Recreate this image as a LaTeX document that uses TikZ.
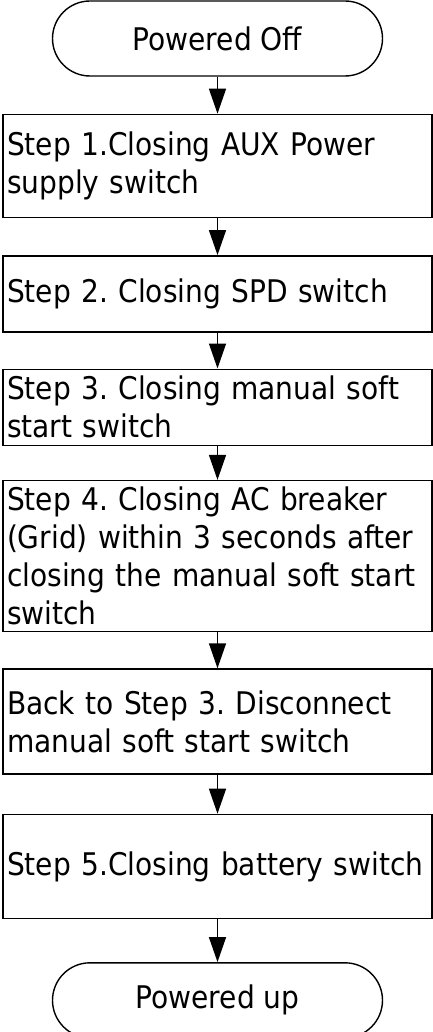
\documentclass[tikz,border=0pt]{standalone}
\usepackage{fontspec}
\setmainfont{DejaVu Sans Condensed}
\usetikzlibrary{arrows.meta, positioning}
\frenchspacing
\tikzset{
  terminal/.style={rectangle, draw, rounded corners=37.5pt, minimum width=330pt,
                   minimum height=75pt, line width=1.4pt},
  stepbox/.style={rectangle, draw, text width=421pt, align=left, inner xsep=4pt,
                  inner ysep=3pt, minimum height=76pt, line width=1.4pt},
  arrow/.style={-{Triangle[length=25pt, width=17pt]}, line width=1.4pt},
}
\begin{document}
\begin{tikzpicture}[node distance=37pt, font=\fontsize{31.2}{38}\selectfont]
  \useasboundingbox (0,0) rectangle (433pt,-1032pt);
  \node[terminal] (off) at (217.5pt,-38.5pt) {Powered Off};
  \node[stepbox, below=of off, minimum height=103pt] (aux) {Step 1.Closing AUX Power\\supply switch};
  \node[stepbox, below=of aux] (spd) {Step 2. Closing SPD switch};
  \node[stepbox, below=36pt of spd] (soft) {Step 3. Closing manual soft\\start switch};
  \node[stepbox, below=34pt of soft, minimum height=151pt] (grid) {Step 4. Closing AC breaker\\(Grid) within 3 seconds after\\closing the manual soft start\\switch};
  \node[stepbox, below=36pt of grid, minimum height=105pt] (back) {Back to Step 3. Disconnect\\manual soft start switch};
  \node[stepbox, below=39pt of back, minimum height=104pt] (batt) {Step 5.Closing battery switch};
  \node[terminal, below=43pt of batt] (up) {Powered up};

  \draw[arrow] (off) -- (aux);
  \draw[arrow] (aux) -- (spd);
  \draw[arrow] (spd) -- (soft);
  \draw[arrow] (soft) -- (grid);
  \draw[arrow] (grid) -- (back);
  \draw[arrow] (back) -- (batt);
  \draw[arrow] (batt) -- (up);
\end{tikzpicture}
\end{document}
